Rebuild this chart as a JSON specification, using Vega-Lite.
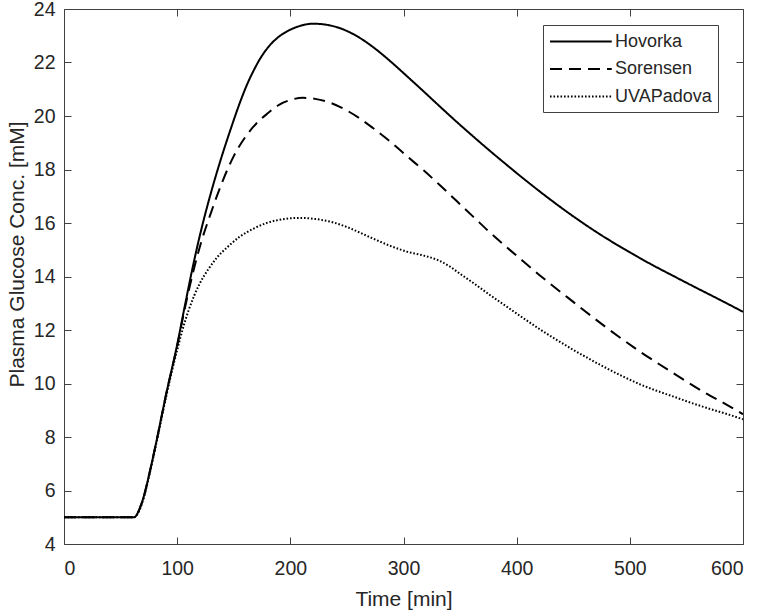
{
  "$schema": "https://vega.github.io/schema/vega-lite/v6.json",
  "width": 679,
  "height": 535,
  "autosize": {"type": "none"},
  "padding": {"left": 64, "top": 9, "right": 18, "bottom": 69},
  "background": "white",
  "config": {
    "view": {"stroke": null},
    "font": "Liberation Sans",
    "axis": {
      "domainColor": "#404040",
      "domainWidth": 1,
      "tickColor": "#404040",
      "tickWidth": 1,
      "tickSize": -7,
      "grid": false,
      "labelFont": "Liberation Sans",
      "labelFontSize": 19.5,
      "labelColor": "#262626",
      "titleFont": "Liberation Sans",
      "titleFontSize": 21,
      "titleFontWeight": "normal",
      "titleColor": "#262626"
    }
  },
  "data": {
    "values": [
      {"t": 0, "g": 5, "model": "Hovorka"},
      {"t": 62, "g": 5, "model": "Hovorka"},
      {"t": 65, "g": 5.15, "model": "Hovorka"},
      {"t": 68, "g": 5.45, "model": "Hovorka"},
      {"t": 71, "g": 5.85, "model": "Hovorka"},
      {"t": 75, "g": 6.55, "model": "Hovorka"},
      {"t": 82, "g": 7.9, "model": "Hovorka"},
      {"t": 90, "g": 9.55, "model": "Hovorka"},
      {"t": 100, "g": 11.45, "model": "Hovorka"},
      {"t": 107, "g": 12.95, "model": "Hovorka"},
      {"t": 114, "g": 14.4, "model": "Hovorka"},
      {"t": 121, "g": 15.7, "model": "Hovorka"},
      {"t": 129, "g": 17.0, "model": "Hovorka"},
      {"t": 138, "g": 18.3, "model": "Hovorka"},
      {"t": 148, "g": 19.6, "model": "Hovorka"},
      {"t": 155, "g": 20.45, "model": "Hovorka"},
      {"t": 162, "g": 21.2, "model": "Hovorka"},
      {"t": 167, "g": 21.65, "model": "Hovorka"},
      {"t": 173, "g": 22.12, "model": "Hovorka"},
      {"t": 180, "g": 22.55, "model": "Hovorka"},
      {"t": 188, "g": 22.9, "model": "Hovorka"},
      {"t": 197, "g": 23.16, "model": "Hovorka"},
      {"t": 208, "g": 23.36, "model": "Hovorka"},
      {"t": 220, "g": 23.45, "model": "Hovorka"},
      {"t": 232, "g": 23.41, "model": "Hovorka"},
      {"t": 244, "g": 23.28, "model": "Hovorka"},
      {"t": 261, "g": 22.93, "model": "Hovorka"},
      {"t": 273, "g": 22.58, "model": "Hovorka"},
      {"t": 288, "g": 22.06, "model": "Hovorka"},
      {"t": 303, "g": 21.49, "model": "Hovorka"},
      {"t": 318, "g": 20.91, "model": "Hovorka"},
      {"t": 332, "g": 20.36, "model": "Hovorka"},
      {"t": 347, "g": 19.78, "model": "Hovorka"},
      {"t": 362, "g": 19.22, "model": "Hovorka"},
      {"t": 376, "g": 18.71, "model": "Hovorka"},
      {"t": 391, "g": 18.18, "model": "Hovorka"},
      {"t": 406, "g": 17.66, "model": "Hovorka"},
      {"t": 429, "g": 16.9, "model": "Hovorka"},
      {"t": 450, "g": 16.25, "model": "Hovorka"},
      {"t": 472, "g": 15.62, "model": "Hovorka"},
      {"t": 494, "g": 15.05, "model": "Hovorka"},
      {"t": 516, "g": 14.52, "model": "Hovorka"},
      {"t": 538, "g": 14.03, "model": "Hovorka"},
      {"t": 560, "g": 13.55, "model": "Hovorka"},
      {"t": 580, "g": 13.12, "model": "Hovorka"},
      {"t": 600, "g": 12.68, "model": "Hovorka"},

      {"t": 0, "g": 5, "model": "Sorensen"},
      {"t": 62, "g": 5, "model": "Sorensen"},
      {"t": 65, "g": 5.15, "model": "Sorensen"},
      {"t": 68, "g": 5.45, "model": "Sorensen"},
      {"t": 71, "g": 5.85, "model": "Sorensen"},
      {"t": 75, "g": 6.55, "model": "Sorensen"},
      {"t": 82, "g": 7.9, "model": "Sorensen"},
      {"t": 90, "g": 9.55, "model": "Sorensen"},
      {"t": 100, "g": 11.4, "model": "Sorensen"},
      {"t": 107, "g": 12.85, "model": "Sorensen"},
      {"t": 114, "g": 14.15, "model": "Sorensen"},
      {"t": 121, "g": 15.25, "model": "Sorensen"},
      {"t": 130, "g": 16.4, "model": "Sorensen"},
      {"t": 140, "g": 17.55, "model": "Sorensen"},
      {"t": 150, "g": 18.5, "model": "Sorensen"},
      {"t": 160, "g": 19.2, "model": "Sorensen"},
      {"t": 170, "g": 19.72, "model": "Sorensen"},
      {"t": 180, "g": 20.1, "model": "Sorensen"},
      {"t": 190, "g": 20.42, "model": "Sorensen"},
      {"t": 200, "g": 20.6, "model": "Sorensen"},
      {"t": 211, "g": 20.68, "model": "Sorensen"},
      {"t": 222, "g": 20.64, "model": "Sorensen"},
      {"t": 235, "g": 20.5, "model": "Sorensen"},
      {"t": 248, "g": 20.25, "model": "Sorensen"},
      {"t": 261, "g": 19.92, "model": "Sorensen"},
      {"t": 273, "g": 19.55, "model": "Sorensen"},
      {"t": 288, "g": 19.05, "model": "Sorensen"},
      {"t": 303, "g": 18.5, "model": "Sorensen"},
      {"t": 318, "g": 17.96, "model": "Sorensen"},
      {"t": 332, "g": 17.42, "model": "Sorensen"},
      {"t": 347, "g": 16.82, "model": "Sorensen"},
      {"t": 362, "g": 16.22, "model": "Sorensen"},
      {"t": 376, "g": 15.66, "model": "Sorensen"},
      {"t": 391, "g": 15.1, "model": "Sorensen"},
      {"t": 406, "g": 14.56, "model": "Sorensen"},
      {"t": 420, "g": 14.06, "model": "Sorensen"},
      {"t": 450, "g": 13.05, "model": "Sorensen"},
      {"t": 479, "g": 12.1, "model": "Sorensen"},
      {"t": 508, "g": 11.22, "model": "Sorensen"},
      {"t": 538, "g": 10.4, "model": "Sorensen"},
      {"t": 567, "g": 9.64, "model": "Sorensen"},
      {"t": 585, "g": 9.22, "model": "Sorensen"},
      {"t": 600, "g": 8.85, "model": "Sorensen"},

      {"t": 0, "g": 5, "model": "UVAPadova"},
      {"t": 62, "g": 5, "model": "UVAPadova"},
      {"t": 65, "g": 5.12, "model": "UVAPadova"},
      {"t": 68, "g": 5.4, "model": "UVAPadova"},
      {"t": 71, "g": 5.8, "model": "UVAPadova"},
      {"t": 75, "g": 6.5, "model": "UVAPadova"},
      {"t": 82, "g": 7.85, "model": "UVAPadova"},
      {"t": 90, "g": 9.45, "model": "UVAPadova"},
      {"t": 95, "g": 10.4, "model": "UVAPadova"},
      {"t": 100, "g": 11.25, "model": "UVAPadova"},
      {"t": 105, "g": 12.05, "model": "UVAPadova"},
      {"t": 110, "g": 12.72, "model": "UVAPadova"},
      {"t": 115, "g": 13.28, "model": "UVAPadova"},
      {"t": 120, "g": 13.74, "model": "UVAPadova"},
      {"t": 128, "g": 14.3, "model": "UVAPadova"},
      {"t": 135, "g": 14.7, "model": "UVAPadova"},
      {"t": 145, "g": 15.12, "model": "UVAPadova"},
      {"t": 155, "g": 15.48, "model": "UVAPadova"},
      {"t": 167, "g": 15.78, "model": "UVAPadova"},
      {"t": 179, "g": 16.0, "model": "UVAPadova"},
      {"t": 195, "g": 16.15, "model": "UVAPadova"},
      {"t": 208, "g": 16.19, "model": "UVAPadova"},
      {"t": 222, "g": 16.15, "model": "UVAPadova"},
      {"t": 238, "g": 16.02, "model": "UVAPadova"},
      {"t": 250, "g": 15.85, "model": "UVAPadova"},
      {"t": 261, "g": 15.65, "model": "UVAPadova"},
      {"t": 273, "g": 15.42, "model": "UVAPadova"},
      {"t": 288, "g": 15.15, "model": "UVAPadova"},
      {"t": 303, "g": 14.93, "model": "UVAPadova"},
      {"t": 318, "g": 14.78, "model": "UVAPadova"},
      {"t": 330, "g": 14.62, "model": "UVAPadova"},
      {"t": 340, "g": 14.4, "model": "UVAPadova"},
      {"t": 350, "g": 14.1, "model": "UVAPadova"},
      {"t": 362, "g": 13.75, "model": "UVAPadova"},
      {"t": 376, "g": 13.32, "model": "UVAPadova"},
      {"t": 391, "g": 12.88, "model": "UVAPadova"},
      {"t": 406, "g": 12.44, "model": "UVAPadova"},
      {"t": 420, "g": 12.04, "model": "UVAPadova"},
      {"t": 435, "g": 11.64, "model": "UVAPadova"},
      {"t": 450, "g": 11.26, "model": "UVAPadova"},
      {"t": 465, "g": 10.9, "model": "UVAPadova"},
      {"t": 479, "g": 10.58, "model": "UVAPadova"},
      {"t": 494, "g": 10.26, "model": "UVAPadova"},
      {"t": 509, "g": 9.97, "model": "UVAPadova"},
      {"t": 523, "g": 9.74, "model": "UVAPadova"},
      {"t": 538, "g": 9.52, "model": "UVAPadova"},
      {"t": 552, "g": 9.31, "model": "UVAPadova"},
      {"t": 567, "g": 9.1, "model": "UVAPadova"},
      {"t": 585, "g": 8.87, "model": "UVAPadova"},
      {"t": 600, "g": 8.66, "model": "UVAPadova"}
    ]
  },
  "layer": [
    {
      "mark": {"type": "line", "color": "black", "strokeWidth": 2, "interpolate": "monotone", "clip": true},
      "encoding": {
        "x": {
          "field": "t", "type": "quantitative",
          "scale": {"domain": [0, 600], "nice": false, "zero": false},
          "axis": {"orient": "bottom", "values": [0, 100, 200, 300, 400, 500, 600], "labelPadding": 22, "title": "Time [min]", "titleBaseline": "alphabetic", "titleX": 339.5, "titleY": 61, "titleAlign": "center"}
        },
        "y": {
          "field": "g", "type": "quantitative",
          "scale": {"domain": [4, 24], "nice": false, "zero": false},
          "axis": {"orient": "left", "values": [4, 6, 8, 10, 12, 14, 16, 18, 20, 22, 24], "labelPadding": 16, "title": "Plasma Glucose Conc. [mM]", "titleBaseline": "alphabetic", "titleAngle": -90, "titleX": -41, "titleY": 245, "titleAlign": "center"}
        },
        "strokeDash": {
          "field": "model", "type": "nominal",
          "scale": {"domain": ["Hovorka", "Sorensen", "UVAPadova"], "range": [[1, 0], [12, 7], [1.6, 1.9]]},
          "legend": {
            "title": null,
            "orient": "none",
            "legendX": 479,
            "legendY": 16,
            "symbolType": "M-1,0H5.5",
            "symbolSize": 361,
            "symbolStrokeWidth": 2,
            "symbolStrokeColor": "black",
            "labelFont": "Liberation Sans",
            "labelFontSize": 18,
            "labelColor": "#262626",
            "labelOffset": 45,
            "padding": 6,
            "rowPadding": 7.5,
            "fillColor": "white",
            "strokeColor": "#404040"
          }
        }
      }
    },
    {
      "mark": {"type": "line", "opacity": 0},
      "encoding": {
        "x": {
          "field": "t", "type": "quantitative",
          "axis": {"orient": "top", "values": [0, 100, 200, 300, 400, 500, 600], "labels": false, "title": null}
        },
        "y": {
          "field": "g", "type": "quantitative",
          "axis": {"orient": "right", "values": [4, 6, 8, 10, 12, 14, 16, 18, 20, 22, 24], "labels": false, "title": null}
        },
        "detail": {"field": "model", "type": "nominal"}
      }
    }
  ],
  "resolve": {"axis": {"x": "independent", "y": "independent"}}
}
